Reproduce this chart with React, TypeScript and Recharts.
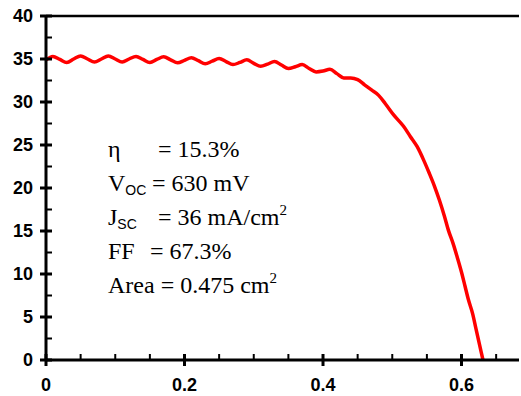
import { LineChart, Line, XAxis, YAxis, ReferenceLine } from 'recharts'

// I-V curve: voltage (V) and current density (mA/cm2)
const VOLTAGE = [
  0, 0.01, 0.02, 0.03, 0.04, 0.05, 0.06, 0.07, 0.08, 0.09,
  0.1, 0.11, 0.12, 0.13, 0.14, 0.15, 0.16, 0.17, 0.18, 0.19,
  0.2, 0.21, 0.22, 0.23, 0.24, 0.25, 0.26, 0.27, 0.28, 0.29,
  0.3, 0.31, 0.32, 0.33, 0.34, 0.35, 0.36, 0.37, 0.38, 0.39,
  0.4, 0.41, 0.42, 0.43, 0.44, 0.45, 0.46, 0.47, 0.48, 0.49,
  0.502, 0.516, 0.526, 0.536, 0.545, 0.553, 0.561, 0.568, 0.575, 0.581,
  0.588, 0.594, 0.6, 0.605, 0.61, 0.616, 0.621, 0.626, 0.631,
]
const CURRENT = [
  34.9, 35.3, 34.95, 34.6, 35.0, 35.35, 35.0, 34.65, 35.0, 35.35,
  35.0, 34.65, 35.0, 35.3, 34.95, 34.6, 34.95, 35.25, 34.9, 34.55,
  34.85, 35.15, 34.8, 34.45, 34.75, 35.05, 34.7, 34.35, 34.6, 34.9,
  34.5, 34.15, 34.4, 34.7, 34.3, 33.9, 34.1, 34.35, 33.9, 33.5,
  33.6, 33.8, 33.3, 32.8, 32.8, 32.6, 32.0, 31.4, 30.8, 29.8,
  28.5, 27.2, 26.0, 24.8, 23.3, 21.8, 20.2, 18.6, 16.8, 15.1,
  13.5, 11.9, 10.2, 8.6, 7.0, 5.4, 3.6, 1.8, 0,
]

const X_TICKS = [0, 0.05, 0.1, 0.15, 0.2, 0.25, 0.3, 0.35, 0.4, 0.45, 0.5, 0.55, 0.6, 0.65]
const X_LABELS = ['0', '0.2', '0.4', '0.6']
const Y_TICKS = [0, 2.5, 5, 7.5, 10, 12.5, 15, 17.5, 20, 22.5, 25, 27.5, 30, 32.5, 35, 37.5, 40]

const data = VOLTAGE.map((v, i) => ({ v, j: CURRENT[i] }))

const labelStyle = { fontFamily: 'Liberation Sans, Arial, sans-serif', fontWeight: 700, fontSize: 18 }

function XTick(props: any) {
  const { x, y, payload } = props
  const label = X_LABELS.find((l) => Math.abs(Number(l) - payload.value) < 1e-6)
  if (label === undefined) {
    return <line x1={x} x2={x} y1={y - 6} y2={y} stroke="#000" strokeWidth={2} />
  }
  return (
    <g>
      <line x1={x} x2={x} y1={y - 6} y2={y + 6} stroke="#000" strokeWidth={3} />
      <text x={x} y={y + 31} textAnchor="middle" style={labelStyle} fill="#000">
        {label}
      </text>
    </g>
  )
}

function YTick(props: any) {
  const { x, y, payload } = props
  const major = payload.value % 5 === 0
  if (!major) {
    return <line x1={x} x2={x + 6} y1={y} y2={y} stroke="#000" strokeWidth={2} />
  }
  return (
    <g>
      <line x1={x - 6} x2={x + 6} y1={y} y2={y} stroke="#000" strokeWidth={3} />
      <text x={x - 13} y={y + 6} textAnchor="end" style={labelStyle} fill="#000">
        {payload.value}
      </text>
    </g>
  )
}

const serif = { fontFamily: 'Liberation Serif, Times New Roman, serif', fontSize: 24 }
const subStyle = { fontFamily: 'Liberation Sans, Arial, sans-serif', fontSize: 14 }
const supStyle = { fontSize: 15 }

export default function App() {
  return (
    <div style={{ position: 'absolute', left: 0, top: 0, width: 521, height: 396, background: '#fff' }}>
      <LineChart width={521} height={396} data={data} margin={{ top: 16, right: 2, bottom: 0, left: 0 }}>
        <XAxis
          dataKey="v"
          type="number"
          domain={[0, 0.683]}
          ticks={X_TICKS}
          interval={0}
          height={36}
          tick={<XTick />}
          tickSize={0}
          tickMargin={0}
          axisLine={{ stroke: '#000', strokeWidth: 3 }}
        />
        <YAxis
          type="number"
          domain={[0, 40]}
          ticks={Y_TICKS}
          interval={0}
          width={46}
          tick={<YTick />}
          tickSize={0}
          tickMargin={0}
          axisLine={{ stroke: '#000', strokeWidth: 3 }}
        />
        <ReferenceLine y={40} stroke="#000" strokeWidth={2.5} />
        <Line
          dataKey="j"
          type="monotone"
          stroke="#ff0000"
          strokeWidth={3.5}
          dot={false}
          isAnimationActive={false}
        />
      </LineChart>
      <svg width={521} height={396} style={{ position: 'absolute', left: 0, top: 0, pointerEvents: 'none' }}>
        <g fill="#000" style={serif}>
          <text x={108} y={157}>η</text>
          <text x={158} y={157}>= 15.3%</text>
          <text x={108} y={191}>
            V<tspan style={subStyle} dy={4}>OC</tspan>
          </text>
          <text x={152} y={191}>= 630 mV</text>
          <text x={108} y={225}>
            J<tspan style={subStyle} dy={4}>SC</tspan>
          </text>
          <text x={158} y={225}>
            = 36 mA/cm<tspan style={supStyle} dy={-10}>2</tspan>
          </text>
          <text x={108} y={259}>FF</text>
          <text x={150} y={259}>= 67.3%</text>
          <text x={108} y={293}>
            Area = 0.475 cm<tspan style={supStyle} dy={-10}>2</tspan>
          </text>
        </g>
      </svg>
    </div>
  )
}
